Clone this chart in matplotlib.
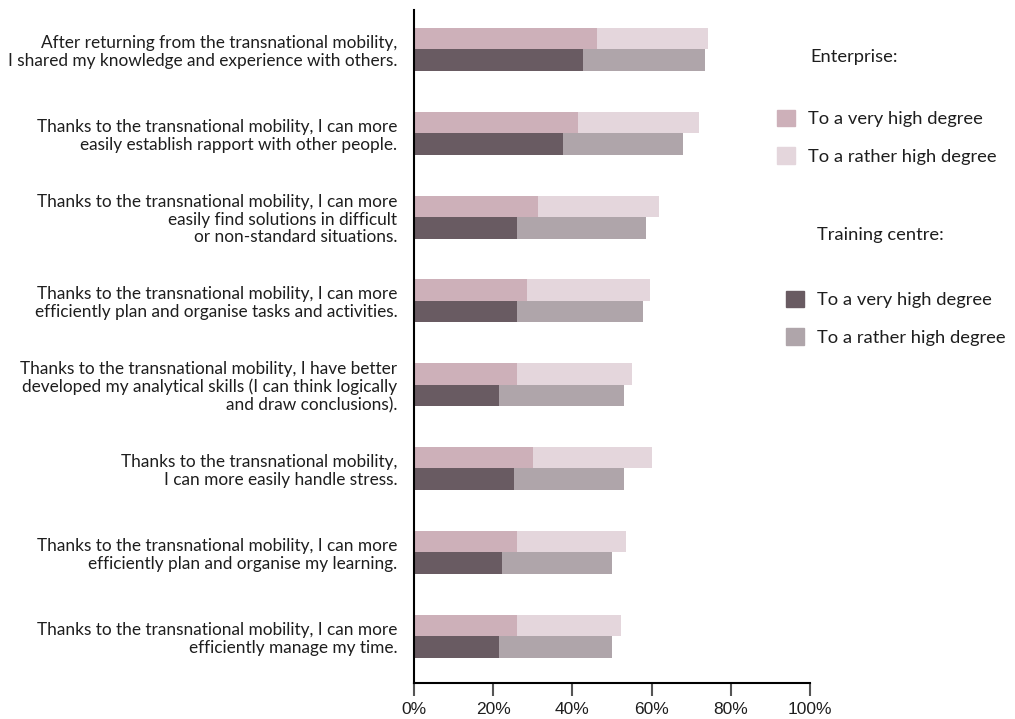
import numpy as np
import matplotlib
matplotlib.use("Agg")
import matplotlib.pyplot as plt
from matplotlib.patches import Patch

plt.rcParams["font.family"] = ["Lato", "DejaVu Sans"]

# statements, top to bottom
labels = [
    "After returning from the transnational mobility,\nI shared my knowledge and experience with others.",
    "Thanks to the transnational mobility, I can more\neasily establish rapport with other people.",
    "Thanks to the transnational mobility, I can more\neasily find solutions in difficult\nor non-standard situations.",
    "Thanks to the transnational mobility, I can more\nefficiently plan and organise tasks and activities.",
    "Thanks to the transnational mobility, I have better\ndeveloped my analytical skills (I can think logically\nand draw conclusions).",
    "Thanks to the transnational mobility,\nI can more easily handle stress.",
    "Thanks to the transnational mobility, I can more\nefficiently plan and organise my learning.",
    "Thanks to the transnational mobility, I can more\nefficiently manage my time.",
]

# percentages
ent_very = [46.2, 41.4, 31.3, 28.5, 26.0, 30.0, 26.0, 26.0]
ent_rather = [28.0, 30.6, 30.6, 31.1, 29.1, 30.1, 27.5, 26.3]
tc_very = [42.7, 37.6, 26.0, 26.0, 21.5, 25.3, 22.2, 21.5]
tc_rather = [30.8, 30.3, 32.6, 31.8, 31.5, 27.7, 27.8, 28.5]

c_ent_very = "#cdb0b9"
c_ent_rather = "#e4d6dc"
c_tc_very = "#695b62"
c_tc_rather = "#afa5aa"
txt = "#1e1e1e"

fig = plt.figure(figsize=(10.15, 7.19), dpi=100)
ax = fig.add_axes([414/1015, 1-683/719, 396/1015, 673/719])

y = np.arange(len(labels))
h = 0.257
ax.barh(y - h/2, ent_very, height=h, color=c_ent_very)
ax.barh(y - h/2, ent_rather, left=ent_very, height=h, color=c_ent_rather)
ax.barh(y + h/2, tc_very, height=h, color=c_tc_very)
ax.barh(y + h/2, tc_rather, left=tc_very, height=h, color=c_tc_rather)

ax.set_xlim(0, 100)
ax.set_ylim(7.56, -0.471)
ax.set_xticks([0, 20, 40, 60, 80, 100])
ax.set_xticklabels(["0%", "20%", "40%", "60%", "80%", "100%"],
                   family="Liberation Sans", fontsize=12.5, color=txt)
ax.tick_params(axis="x", length=9, width=1.5, color="#555555", pad=5)
ax.set_yticks(y)
ax.set_yticklabels(labels, fontsize=12.4, color=txt, linespacing=1.15)
ax.tick_params(axis="y", length=0, pad=12)
for s in ["top", "right"]:
    ax.spines[s].set_visible(False)
ax.spines["left"].set_linewidth(1.5)
ax.spines["bottom"].set_linewidth(1.5)

# legends (two blocks, each with its own heading)
leg_kw = dict(loc="upper left", frameon=False, fontsize=13.2, handlelength=1.0,
              handleheight=1.0, handletextpad=0.7, labelspacing=1.08,
              borderpad=0, borderaxespad=0)
fig.text(810/1015, 1-57/719, "Enterprise:", fontsize=13.2, va="center", color=txt)
fig.legend(handles=[Patch(color=c_ent_very, label="To a very high degree"),
                    Patch(color=c_ent_rather, label="To a rather high degree")],
           bbox_to_anchor=(777/1015, 1-110/719), labelcolor=txt, **leg_kw)
fig.text(817/1015, 1-235/719, "Training centre:", fontsize=13.2, va="center", color=txt)
fig.legend(handles=[Patch(color=c_tc_very, label="To a very high degree"),
                    Patch(color=c_tc_rather, label="To a rather high degree")],
           bbox_to_anchor=(786/1015, 1-291/719), labelcolor=txt, **leg_kw)

fig.savefig("out.png", dpi=100)
